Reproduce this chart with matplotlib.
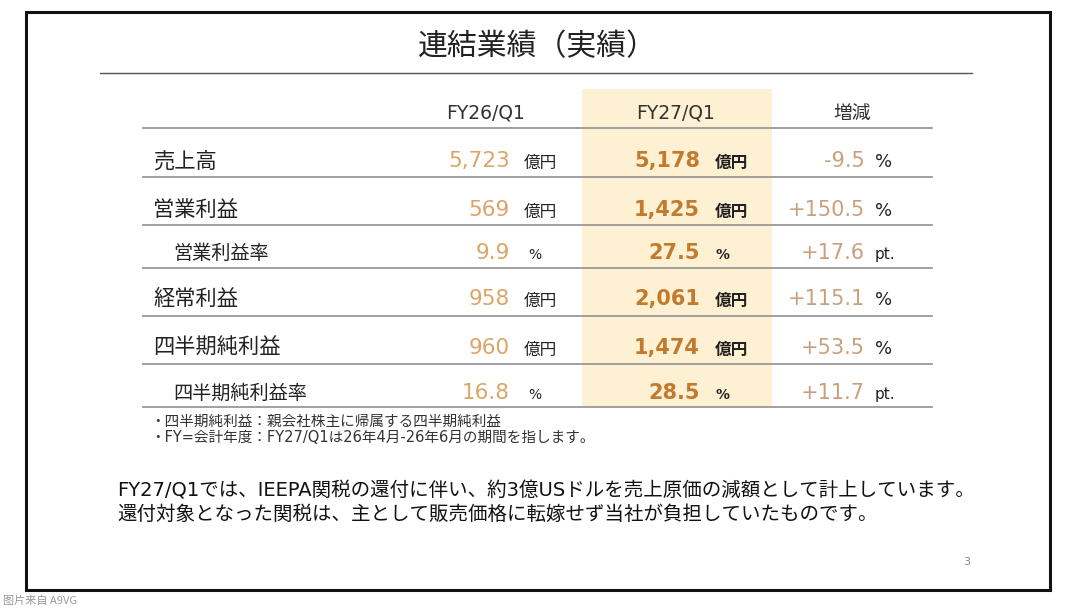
import numpy as np
import matplotlib.pyplot as plt
from matplotlib.patches import Rectangle

plt.rcParams['font.family'] = ['DejaVu Sans', 'Noto Sans CJK JP']

# table data
title = "連結業績（実績）"
col_heads = ["FY26/Q1", "FY27/Q1", "増減"]
labels = ["売上高", "営業利益", "営業利益率", "経常利益", "四半期純利益", "四半期純利益率"]
is_sub = [False, False, True, False, False, True]
fy26 = [5723, 569, 9.9, 958, 960, 16.8]
fy27 = [5178, 1425, 27.5, 2061, 1474, 28.5]
change = [-9.5, 150.5, 17.6, 115.1, 53.5, 11.7]
units = ["億円", "億円", "%", "億円", "億円", "%"]
change_units = ["%", "%", "pt.", "%", "%", "pt."]
notes = ["・四半期純利益：親会社株主に帰属する四半期純利益",
         "・FY=会計年度：FY27/Q1は26年4月-26年6月の期間を指します。"]
body = ["FY27/Q1では、IEEPA関税の還付に伴い、約3億USドルを売上原価の減額として計上しています。",
        "還付対象となった関税は、主として販売価格に転嫁せず当社が負担していたものです。"]
page_no = "3"
source = "图片来自 A9VG"


def fmt(v):
    if isinstance(v, float):
        return f"{v:.1f}"
    return f"{v:,}"


fig = plt.figure(figsize=(10.8, 6.1), dpi=100)
ax = fig.add_axes([0, 0, 1, 1])
ax.set_xlim(0, 1080)
ax.set_ylim(610, 0)
ax.axis('off')

# slide frame
ax.add_patch(Rectangle((26, 12), 1024, 578, fill=False, edgecolor='#111111', lw=2.2))

ax.text(537, 47, title, ha='center', va='center', fontsize=21.5, color='#222222')
ax.plot([100, 972], [73, 73], color='#555555', lw=1)

# highlight column
ax.add_patch(Rectangle((582, 89), 190, 318, facecolor='#FDF0D3', edgecolor='none', zorder=0))

head_x = [486, 676, 852]
for x, h in zip(head_x, col_heads):
    ax.text(x, 113, h, ha='center', va='center', fontsize=13.5, color='#333333')

row_y = [161, 210, 253, 299, 348, 393]
line_y = [128, 177, 225, 268, 316, 364, 407]
for y in line_y:
    ax.plot([143, 932], [y, y], color='#999999', lw=1.3, zorder=1)

c26 = '#DDA468'
c27 = '#C27B2E'
cch = '#C9A07E'
for i, lab in enumerate(labels):
    y = row_y[i]
    small = is_sub[i]
    ax.text(173 if small else 153, y, lab, ha='left', va='center',
            fontsize=13.8 if small else 15.3, color='#222222')
    pct = units[i] == '%'
    ax.text(510, y, fmt(fy26[i]), ha='right', va='center', fontsize=15.5, color=c26)
    ax.text(528 if pct else 524, y + 2, units[i], ha='left', va='center',
            fontsize=10 if pct else 12, color='#222222')
    ax.text(700, y, fmt(fy27[i]), ha='right', va='center', fontsize=15,
            color=c27, fontweight='bold')
    ax.text(715, y + 2, units[i], ha='left', va='center', fontsize=10 if pct else 12,
            color='#222222', fontweight='bold')
    sign = '+' if change[i] > 0 else ''
    ax.text(865, y, f"{sign}{change[i]:.1f}", ha='right', va='center', fontsize=15, color=cch)
    ax.text(875, y + 1, change_units[i], ha='left', va='center',
            fontsize=13 if change_units[i] == '%' else 11, color='#222222')

for k, n in enumerate(notes):
    ax.text(150, 421 + 17 * k, n, ha='left', va='center', fontsize=10.5, color='#333333')

for k, b in enumerate(body):
    ax.text(117, 491 + 23 * k, b, ha='left', va='center', fontsize=14, color='#111111')

ax.text(967, 562, page_no, ha='center', va='center', fontsize=8, color='#888888')
ax.text(3, 601, source, ha='left', va='center', fontsize=8, color='#999999',
        family=['Noto Sans CJK SC', 'DejaVu Sans'])

fig.savefig('out.png', dpi=100, facecolor='white')
